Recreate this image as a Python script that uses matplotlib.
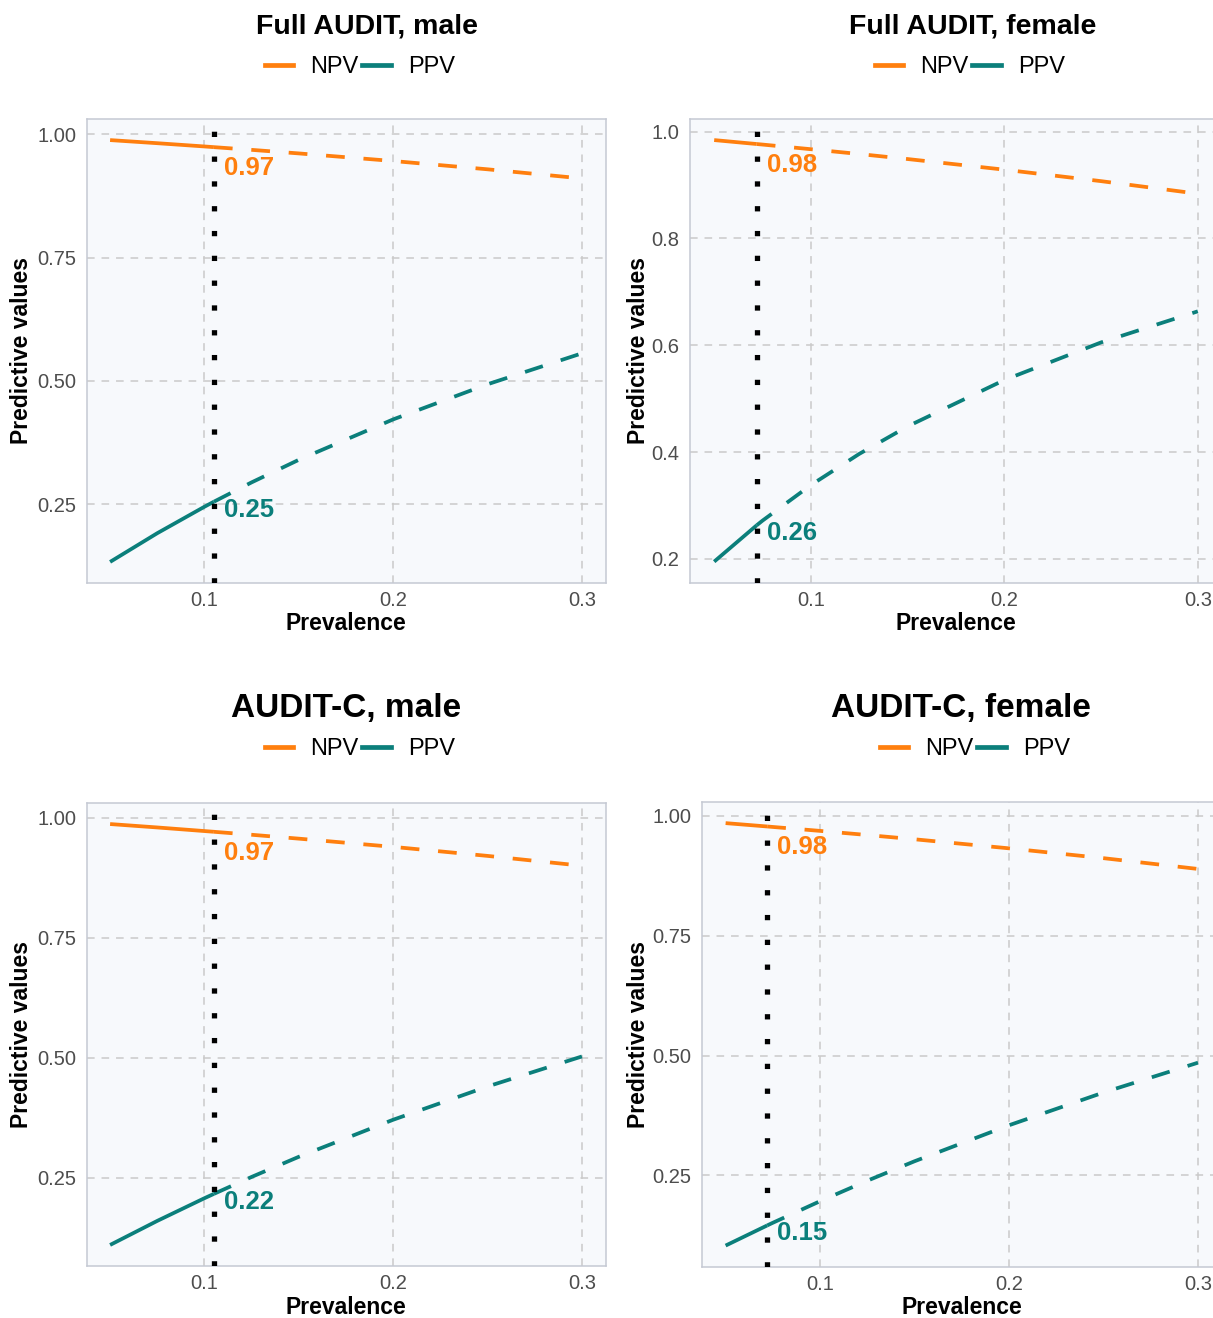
import matplotlib
matplotlib.use("Agg")
import matplotlib.pyplot as plt
from matplotlib.lines import Line2D
import numpy as np

plt.rcParams['font.family'] = ['Liberation Sans', 'DejaVu Sans']

# ---------------- data ----------------
titles = ["Full AUDIT, male", "Full AUDIT, female", "AUDIT-C, male", "AUDIT-C, female"]
prevalence_points = [0.105, 0.072, 0.105, 0.072]

grid_male = [0.05, 0.075, 0.1, 0.105, 0.125, 0.15, 0.2, 0.25, 0.3]
grid_female = [0.05, 0.072, 0.075, 0.1, 0.125, 0.15, 0.2, 0.25, 0.3]

full_male_npv = [0.9880, 0.9817, 0.9751, 0.9737, 0.9682, 0.9610, 0.9456, 0.9288, 0.9103]
full_male_ppv = [0.1332, 0.1914, 0.2450, 0.2552, 0.2944, 0.3401, 0.4220, 0.4932, 0.5559]
full_female_npv = [0.9841, 0.9767, 0.9757, 0.9670, 0.9580, 0.9486, 0.9287, 0.9072, 0.8837]
full_female_ppv = [0.1949, 0.2630, 0.2717, 0.3382, 0.3966, 0.4481, 0.5349, 0.6053, 0.6635]
c_male_npv = [0.9865, 0.9794, 0.9719, 0.9704, 0.9642, 0.9561, 0.9390, 0.9202, 0.8997]
c_male_ppv = [0.1105, 0.1606, 0.2078, 0.2168, 0.2521, 0.2940, 0.3711, 0.4403, 0.5028]
c_female_npv = [0.9850, 0.9780, 0.9770, 0.9688, 0.9602, 0.9513, 0.9324, 0.9119, 0.8894]
c_female_ppv = [0.1038, 0.1458, 0.1514, 0.1964, 0.2391, 0.2797, 0.3548, 0.4231, 0.4853]

npv_labels = ["0.97", "0.98", "0.97", "0.98"]
ppv_labels = ["0.25", "0.26", "0.22", "0.15"]

xticks = [0.1, 0.2, 0.3]
xtick_labels = ["0.1", "0.2", "0.3"]
yticks_quarter = [0.25, 0.50, 0.75, 1.00]
yticks_quarter_labels = ["0.25", "0.50", "0.75", "1.00"]
yticks_fifth = [0.2, 0.4, 0.6, 0.8, 1.0]
yticks_fifth_labels = ["0.2", "0.4", "0.6", "0.8", "1.0"]

series_labels = ["NPV", "PPV"]
xlabel = "Prevalence"
ylabel = "Predictive values"

# ---------------- style ----------------
W, H = 1213, 1318
ORANGE = "#FF7F0E"
TEAL = "#0B7F7B"
PANEL_BG = "#F7F9FC"
BORDER = "#C5C9D3"
GRIDC = "#CACACA"
TICKC = "#4D4D4D"

fig = plt.figure(figsize=(W / 100, H / 100), dpi=100)

# axes boxes in pixels: left, top, right, bottom
boxes = [(86.5, 119, 605.5, 583), (690, 119, 1222, 582.7),
         (86.5, 803, 605.5, 1266), (702, 802, 1221.6, 1266.7)]
title_pos = [(367, 26, 20.5), (973, 27, 20.5), (346, 709, 24), (961, 709, 24)]
legend_pos = [(360, 67), (970, 67), (360, 749), (975, 749)]
ylabel_pos = [(22, 351), (638, 351), (22, 1034), (638, 1034)]
xlabel_pos = [(346, 624), (956, 624), (346, 1307), (962, 1307)]

panels = [
    (grid_male, full_male_npv, full_male_ppv, yticks_quarter, yticks_quarter_labels),
    (grid_female, full_female_npv, full_female_ppv, yticks_fifth, yticks_fifth_labels),
    (grid_male, c_male_npv, c_male_ppv, yticks_quarter, yticks_quarter_labels),
    (grid_female, c_female_npv, c_female_ppv, yticks_quarter, yticks_quarter_labels),
]

LW = 2.7
DASH = (0, (5.0, 5.0))

for i, (xs, npv, ppv, yt, ytl) in enumerate(panels):
    l, t, r, b = boxes[i]
    ax = fig.add_axes([l / W, 1 - b / H, (r - l) / W, (b - t) / H])
    ax.set_facecolor(PANEL_BG)
    for sp in ax.spines.values():
        sp.set_color(BORDER)
        sp.set_linewidth(1.1)

    xs = np.array(xs)
    prev = prevalence_points[i]
    npv = np.array(npv)
    ppv = np.array(ppv)
    solid = xs <= prev + 1e-9
    dashed = xs >= prev - 1e-9

    for vals, col in ((npv, ORANGE), (ppv, TEAL)):
        ax.plot(xs[solid], vals[solid], color=col, lw=LW, solid_capstyle='butt', zorder=3)
        ax.plot(xs[dashed], vals[dashed], color=col, lw=LW, linestyle=DASH,
                dash_capstyle='butt', zorder=3)

    ax.axvline(prev, color="black", lw=3.8, linestyle=(0, (1, 3.7)),
               dash_capstyle='butt', zorder=4)

    # limits (ggplot-like 5% expansion)
    xr = xs.max() - xs.min()
    ax.set_xlim(xs.min() - 0.05 * xr, xs.max() + 0.05 * xr)
    ymin = min(npv.min(), ppv.min())
    ymax = max(npv.max(), ppv.max())
    yr = ymax - ymin
    ax.set_ylim(ymin - 0.05 * yr, ymax + 0.05 * yr)

    ax.set_xticks(xticks)
    ax.set_xticklabels(xtick_labels)
    ax.set_yticks(yt)
    ax.set_yticklabels(ytl)
    ax.tick_params(length=0, labelsize=14.5, labelcolor=TICKC)
    ax.tick_params(axis='x', pad=6)
    ax.tick_params(axis='y', pad=7.5)
    ax.grid(True, color=GRIDC, lw=1.1, linestyle=(0, (5, 4.5)), zorder=0)
    ax.set_axisbelow(True)

    npv_at = npv[np.argmin(np.abs(xs - prev))]
    ppv_at = ppv[np.argmin(np.abs(xs - prev))]
    ax.annotate(npv_labels[i], xy=(prev, npv_at), xytext=(10, -21),
                textcoords='offset pixels', color=ORANGE, fontsize=18.5,
                fontweight='bold', ha='left', va='center', zorder=5)
    ax.annotate(ppv_labels[i], xy=(prev, ppv_at), xytext=(10, -8),
                textcoords='offset pixels', color=TEAL, fontsize=18.5,
                fontweight='bold', ha='left', va='center', zorder=5)

    tx, ty, tfs = title_pos[i]
    fig.text(tx / W, 1 - ty / H, titles[i], fontsize=tfs, fontweight='bold',
             ha='center', va='center')
    lx, ly = legend_pos[i]
    handles = [Line2D([], [], color=ORANGE, lw=3.4), Line2D([], [], color=TEAL, lw=3.4)]
    fig.legend(handles, series_labels, loc='center', bbox_to_anchor=(lx / W, 1 - ly / H),
               ncol=2, frameon=False, fontsize=17, handlelength=1.2,
               handletextpad=0.75, columnspacing=0.15, borderpad=0, borderaxespad=0)
    yx, yy = ylabel_pos[i]
    fig.text(yx / W, 1 - yy / H, ylabel, rotation=90, fontsize=16.5, fontweight='bold',
             ha='center', va='center')
    xx, xy_ = xlabel_pos[i]
    fig.text(xx / W, 1 - xy_ / H, xlabel, fontsize=16.5, fontweight='bold',
             ha='center', va='center')

fig.savefig("out.png", dpi=100, facecolor="white")
